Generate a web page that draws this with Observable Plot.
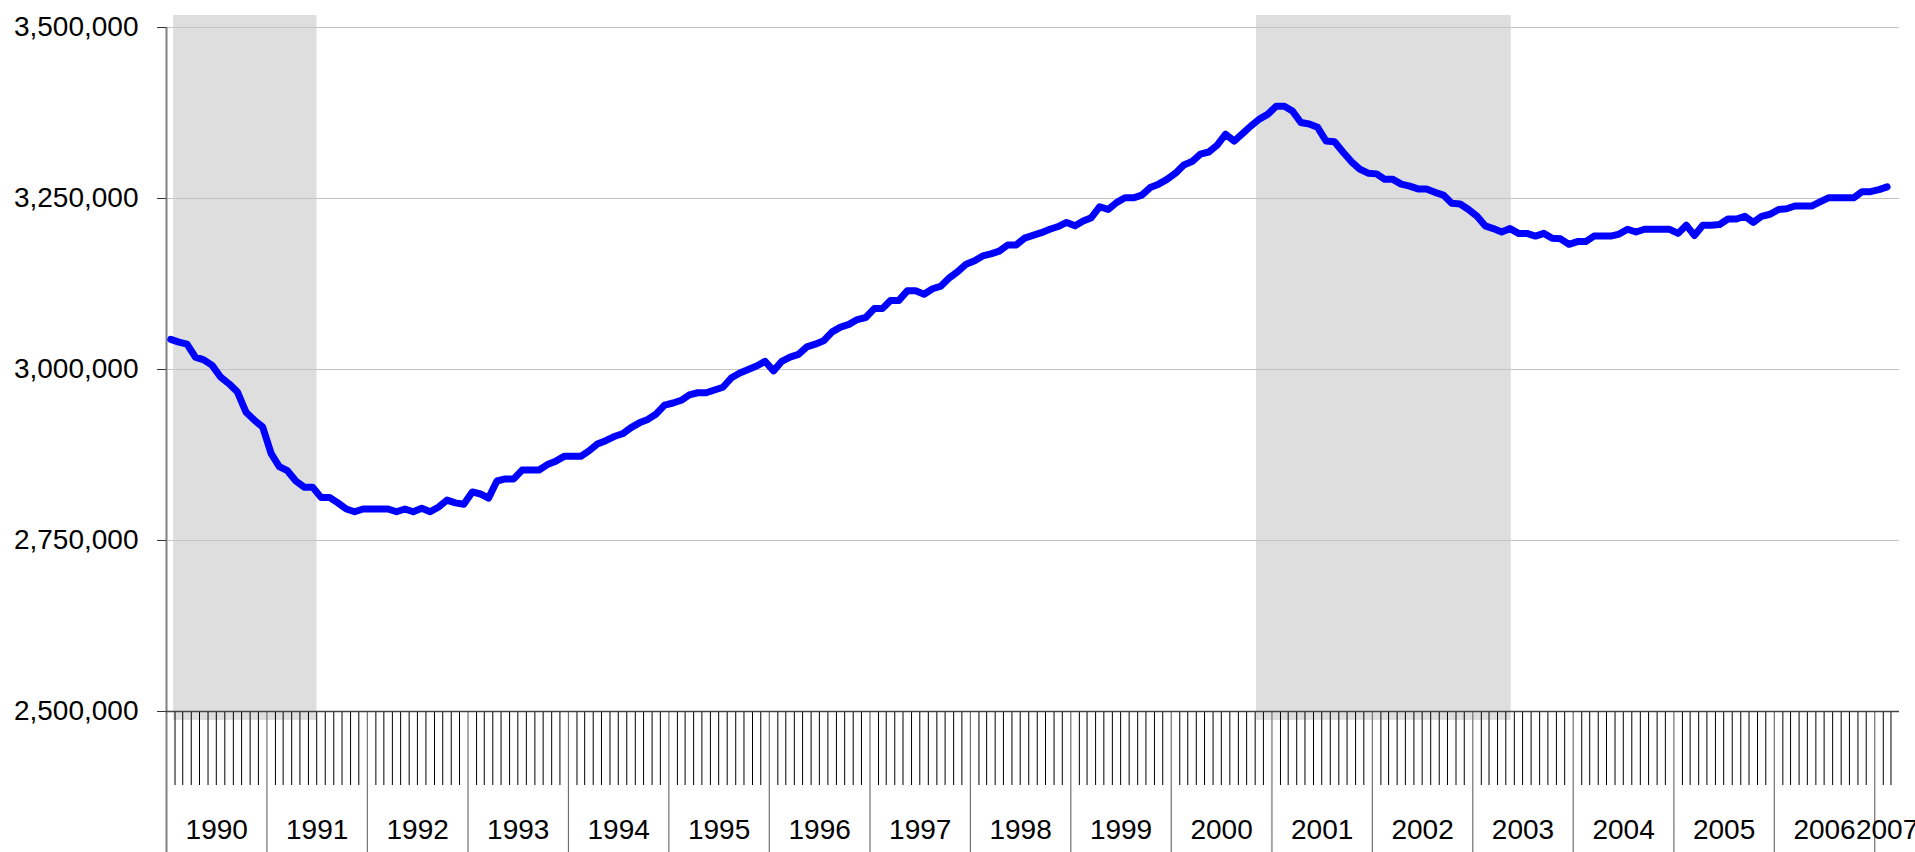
<!DOCTYPE html>
<html><head><meta charset="utf-8">
<script src="https://cdn.jsdelivr.net/npm/d3@7"></script>
<script src="https://cdn.jsdelivr.net/npm/@observablehq/plot@0.6"></script>
<style>
html,body{margin:0;padding:0;background:#fff;}
#chart svg{display:block;}
</style>
</head><body><div id="chart"></div>
<script>
// Monthly values (thousands), January 1990 – February 2007
const firstYear = 1990;
const employment = [
  3044, 3040, 3037, 3018, 3014, 3006, 2989, 2979, 2967, 2938, 2926, 2916,
  2877, 2858, 2852, 2837, 2828, 2828, 2813, 2813, 2805, 2796, 2792, 2796,
  2796, 2796, 2796, 2792, 2796, 2792, 2797, 2792, 2799, 2809, 2805, 2803,
  2821, 2818, 2812, 2837, 2840, 2840, 2853, 2853, 2853, 2861, 2866, 2873,
  2873, 2873, 2881, 2891, 2896, 2902, 2906, 2915, 2922, 2927, 2935, 2948,
  2951, 2955, 2963, 2966, 2966, 2970, 2974, 2988, 2995, 3000, 3005, 3012,
  2998, 3012, 3018, 3022, 3033, 3037, 3042, 3055, 3062, 3066, 3073, 3076,
  3089, 3089, 3101, 3101, 3115, 3115, 3110, 3118, 3122, 3134, 3143, 3154,
  3159, 3166, 3169, 3173, 3182, 3182, 3192, 3196, 3200, 3205, 3209, 3215,
  3210, 3217, 3222, 3238, 3234, 3244, 3251, 3251, 3255, 3266, 3271, 3278,
  3287, 3299, 3304, 3315, 3318, 3328, 3344, 3334, 3345, 3356, 3366, 3373,
  3385, 3385, 3378, 3361, 3359, 3354, 3334, 3333, 3318, 3304, 3293, 3287,
  3286, 3278, 3278, 3271, 3268, 3264, 3264, 3259, 3255, 3243, 3242, 3234,
  3224, 3210, 3206, 3201, 3206, 3199, 3199, 3195, 3199, 3192, 3191, 3183,
  3187, 3187, 3195, 3195, 3195, 3198, 3205, 3201, 3205, 3205, 3205, 3205,
  3199, 3211, 3196, 3211, 3211, 3212, 3220, 3220, 3224, 3215, 3224, 3227,
  3234, 3235, 3239, 3239, 3239, 3245, 3251, 3251, 3251, 3251, 3260, 3260,
  3263, 3267
];
const recessionStart = ["1990-01-27", "2000-11-06"];
const recessionEnd = ["1991-07-02", "2003-05-21"];
const yTicks = [2500000, 2750000, 3000000, 3250000, 3500000];
const yearLabels = [1990, 1991, 1992, 1993, 1994, 1995, 1996, 1997, 1998, 1999, 2000, 2001, 2002, 2003, 2004, 2005, 2006, 2007];

const W = 1915, H = 852;
const mTop = 27, mBottom = 141, mLeft = 166, mRight = 16;
const frameH = H - mTop - mBottom;

const domainStart = new Date(Date.UTC(firstYear, 0, 1));
const domainEnd = new Date(Date.UTC(firstYear, employment.length + 1, 1));

const data = employment.map((v, i) => {
  const a = Date.UTC(firstYear, i, 1), b = Date.UTC(firstYear, i + 1, 1);
  return {date: new Date((a + b) / 2), value: v * 1000};
});
const recessions = recessionStart.map((s, i) => ({start: new Date(s), end: new Date(recessionEnd[i])}));
const monthTicks = d3.utcMonth.range(domainStart, domainEnd).filter(d => d.getUTCMonth() !== 0);
const yearTicks = d3.utcYear.range(new Date(Date.UTC(firstYear + 1, 0, 1)), domainEnd);
const yearText = yearLabels.map(y => {
  const a = Math.max(Date.UTC(y, 0, 1), +domainStart);
  const b = Math.min(Date.UTC(y + 1, 0, 1), +domainEnd);
  return {mid: new Date((a + b) / 2), label: String(y)};
});

const chart = Plot.plot({
  width: W, height: H,
  marginTop: mTop, marginBottom: mBottom, marginLeft: mLeft, marginRight: mRight,
  style: {fontFamily: "'Liberation Sans', Arial, sans-serif", fontSize: "28px", background: "#fff", color: "#000", overflow: "visible"},
  x: {type: "utc", domain: [domainStart, domainEnd], axis: null},
  y: {domain: [2500000, 3500000], axis: null},
  marks: [
    Plot.rect(recessions, {x1: "start", x2: "end", fill: "#dedede", insetTop: -12, insetBottom: -9}),
    Plot.ruleY(yTicks.slice(1), {stroke: "#c4c4c4", strokeWidth: 1}),
    Plot.ruleX(monthTicks, {stroke: "#000", strokeWidth: 1, insetTop: frameH, insetBottom: -74}),
    Plot.ruleX(yearTicks, {stroke: "#707070", strokeWidth: 1.2, insetTop: frameH, insetBottom: -mBottom}),
    Plot.ruleX([domainStart], {stroke: "#808080", strokeWidth: 2, insetBottom: -mBottom}),
    Plot.ruleY([2500000], {stroke: "#444", strokeWidth: 1.5}),
    Plot.axisY({ticks: yTicks, tickSize: 9, tickPadding: 19, tickFormat: d3.format(","), fontSize: 28, label: null, stroke: "#333"}),
    Plot.text(yearText, {x: "mid", text: "label", frameAnchor: "bottom", dy: 119, fontSize: 28, fill: "#000", lineAnchor: "middle"}),
    Plot.line(data, {x: "date", y: "value", stroke: "#0000ff", strokeWidth: 7, strokeLinejoin: "round", strokeLinecap: "round"})
  ]
});
document.getElementById("chart").appendChild(chart);
</script>
</body></html>
